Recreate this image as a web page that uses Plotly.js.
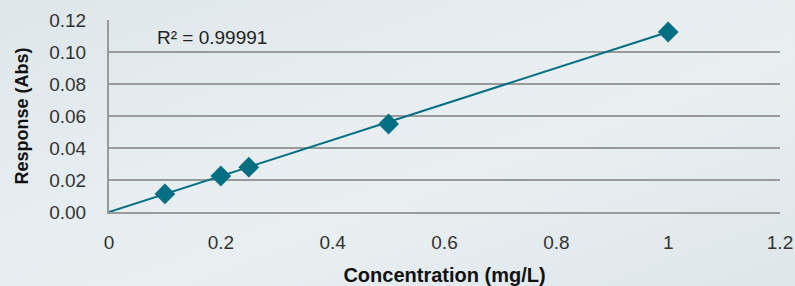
<!DOCTYPE html>
<html><head><meta charset="utf-8">
<script src="https://cdn.plot.ly/plotly-3.0.1.min.js"></script>
<style>
html,body{margin:0;padding:0;}
body{width:795px;height:286px;background:linear-gradient(160deg,#dde6ea 0%,#e6edf0 35%,#e9eff1 60%,#dde6ea 100%);}
#chart{width:795px;height:286px;}
</style></head><body>
<div id="chart"></div>
<script>
const concentration = [0.1, 0.2, 0.25, 0.5, 1.0];
const response = [0.0113, 0.0225, 0.028, 0.055, 0.1125];
const trendX = [0, 1.0];
const trendY = [0, 0.1125];
const xTicks = [0, 0.2, 0.4, 0.6, 0.8, 1, 1.2];
const xTickLabels = ["0", "0.2", "0.4", "0.6", "0.8", "1", "1.2"];
const yTicks = [0, 0.02, 0.04, 0.06, 0.08, 0.10, 0.12];
const yTickLabels = ["0.00", "0.02", "0.04", "0.06", "0.08", "0.10", "0.12"];
const rSquaredText = "R² = 0.99991";

const teal = "#046f82";
const data = [
  {x: trendX, y: trendY, mode: "lines", line: {color: teal, width: 2}, hoverinfo: "skip"},
  {x: concentration, y: response, mode: "markers",
   marker: {symbol: "diamond", size: 16, color: teal, line: {width: 0}}}
];
const layout = {
  width: 795, height: 286,
  margin: {l: 109, r: 15, t: 20, b: 74},
  paper_bgcolor: "rgba(0,0,0,0)", plot_bgcolor: "rgba(0,0,0,0)",
  showlegend: false,
  font: {family: "Liberation Sans, Arial, sans-serif", size: 19, color: "#333"},
  xaxis: {range: [0, 1.2], tickvals: xTicks, ticktext: xTickLabels, showgrid: false,
    zeroline: false, showline: true, linecolor: "#9a9a9a", linewidth: 2,
    ticks: "", ticklabelstandoff: 12, tickfont: {size: 19, color: "#333"},
    title: {text: "Concentration (mg/L)", font: {size: 20, color: "#111", weight: "bold"}, standoff: 16}},
  yaxis: {range: [0, 0.12], tickvals: yTicks, ticktext: yTickLabels, showgrid: true,
    gridcolor: "#9a9a9a", gridwidth: 2, zeroline: false, showline: true,
    linecolor: "#9a9a9a", linewidth: 2, ticks: "", ticklabelstandoff: 17,
    tickfont: {size: 19, color: "#333"},
    title: {text: "Response (Abs)", font: {size: 18, color: "#111", weight: "bold"}, standoff: 16}},
  annotations: [{text: rSquaredText, xref: "paper", yref: "paper", x: 0.068, y: 0.91,
    xanchor: "left", yanchor: "middle", showarrow: false, font: {size: 19, color: "#222"}}]
};
Plotly.newPlot("chart", data, layout, {displayModeBar: false, staticPlot: true});
</script>
</body></html>
